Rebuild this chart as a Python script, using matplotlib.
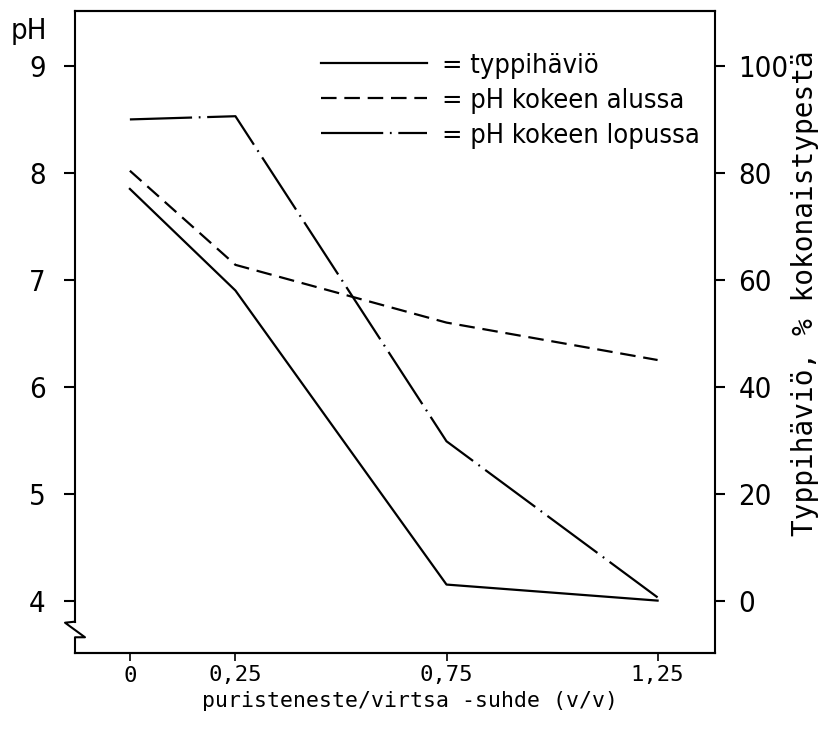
import matplotlib
matplotlib.use("Agg")
import matplotlib.pyplot as plt
from matplotlib.lines import Line2D
from matplotlib import font_manager as fm

# ---- data ----
ratio = [0, 0.25, 0.75, 1.25]
ratio_labels = ["0", "0,25", "0,75", "1,25"]
typpihavio = [77, 58, 3, 0]          # % of total nitrogen (right axis)
ph_alussa = [8.02, 7.14, 6.60, 6.25]  # pH at start
ph_lopussa = [8.50, 8.53, 5.49, 4.03] # pH at end
ph_ticks = [4, 5, 6, 7, 8, 9]
typpi_ticks = [0, 20, 40, 60, 80, 100]

NARROW = dict(family="DejaVu Sans", stretch="condensed")
MONO = ["DejaVu Sans Mono"]

fig = plt.figure(figsize=(8.29, 7.33), dpi=100)
ax = fig.add_axes([75/829, 80/733, 640/829, 642/733])
ax2 = ax.twinx()

ph_lo, ph_hi = 3.51, 9.514
ax.set_ylim(ph_lo, ph_hi)
ax2.set_ylim((ph_lo - 4) * 20, (ph_hi - 4) * 20)
ax.set_xlim(-0.130, 1.386)

lw = 1.6
ax.plot(ratio, ph_alussa, color="black", lw=lw, dashes=(7, 3.5),
        label="= pH kokeen alussa")
ax.plot(ratio, ph_lopussa, color="black", lw=lw, dashes=(28, 3, 0.8, 3),
        label="= pH kokeen lopussa")
ax2.plot(ratio, typpihavio, color="black", lw=lw, label="= typpihäviö")

# ticks
ax.set_xticks(ratio)
ax.set_xticklabels(ratio_labels, family=MONO, fontsize=16)
ax.set_yticks(ph_ticks)
ax.set_yticklabels([str(t) for t in ph_ticks], fontsize=21, **NARROW)
ax2.set_yticks(typpi_ticks)
ax2.set_yticklabels([str(t) for t in typpi_ticks], fontsize=21, **NARROW)

ax.tick_params(axis="y", direction="out", length=8, width=1.5, pad=13)
ax.tick_params(axis="x", direction="out", length=6, width=1.2, pad=3)
ax2.tick_params(axis="y", direction="out", length=7, width=1.5, pad=10)

for a in (ax, ax2):
    for s in a.spines.values():
        s.set_linewidth(1.5)
ax2.spines["left"].set_visible(False)
ax.spines["right"].set_visible(False)

# axis break on left spine
ax.spines["left"].set_bounds(3.80, ph_hi)
brk = Line2D([0, -0.0156, 0.0156, 0, 0], [0.0488, 0.0472, 0.0245, 0.0245, 0],
             transform=ax.transAxes, color="black", lw=1.5, clip_on=False)
ax.add_line(brk)

ax.set_xlabel("puristeneste/virtsa -suhde (v/v)", family=MONO, fontsize=15.5)
ax.xaxis.set_label_coords(0.523, -0.059)
fig.text(29/829, 1 - 31/733, "pH", fontsize=21,
         ha="center", va="center", **NARROW)
ax.text(1.14, 0.561, "Typpihäviö, % kokonaistypestä", family=MONO,
        fontsize=20, rotation=90, ha="center", va="center",
        transform=ax.transAxes)

h1, l1 = ax2.get_legend_handles_labels()
h2, l2 = ax.get_legend_handles_labels()
leg = ax.legend(h1 + h2, l1 + l2, loc="upper right",
                bbox_to_anchor=(0.993, 0.952), frameon=False,
                prop=fm.FontProperties(size=19.5, **NARROW),
                handlelength=3.9, handletextpad=0.55, labelspacing=0.33,
                borderaxespad=0)

fig.savefig("out.png", dpi=100)
